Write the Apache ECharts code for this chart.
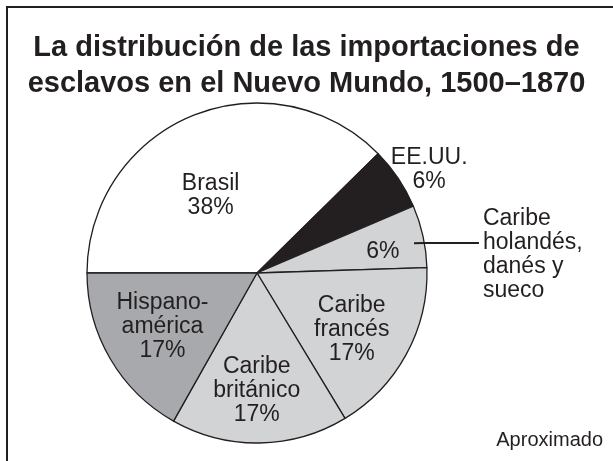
<!DOCTYPE html>
<html>
<head>
<meta charset="utf-8">
<script src="https://cdn.jsdelivr.net/npm/echarts@6/dist/echarts.min.js"></script>
<style>
  html, body { margin: 0; padding: 0; background: #fff; }
  #pieChart { width: 613px; height: 461px; }
</style>
</head>
<body>
<div id="pieChart"></div>
<script>
// regions, clockwise from the left horizontal
var regions = ['Brasil', 'EE.UU.', 'Caribe holandés, danés y sueco', 'Caribe francés', 'Caribe británico', 'Hispanoamérica'];
var shares = [38, 6, 6, 17, 17, 17];
var insideNames = ['Brasil', 'EE.UU.', '', 'Caribe\nfrancés', 'Caribe\nbritánico', 'Hispano-\namérica'];
var sideNote = 'Caribe\nholandés,\ndanés y\nsueco';

var ink = '#231f20';
var fills = ['#ffffff', '#231f20', '#d1d3d4', '#d1d3d4', '#d1d3d4', '#a7a9ac'];
// [radius fraction, angle shift in degrees] for each inner label
var labelPlace = [[0.53, 8.7], [1.18, -3], [0.75, -3], [0.65, -2.5], [0.69, -1], [0.64, -0.6]];

var CX = 257, CY = 273, R = 170;
var font = '"Liberation Sans", Arial, Helvetica, sans-serif';

var myChart = echarts.init(document.getElementById('pieChart'));

var mainData = regions.map(function (name, i) {
  return { name: name, value: shares[i], itemStyle: { color: fills[i] } };
});
var noteData = regions.map(function (name, i) {
  return {
    name: name, value: shares[i],
    label: { show: i === 2 },
    labelLine: { show: i === 2 }
  };
});

var option = {
  backgroundColor: '#fff',
  animation: false,
  title: [{
    text: 'La distribución de las importaciones de\nesclavos en el Nuevo Mundo, 1500–1870',
    left: 'center',
    top: 25,
    textStyle: { fontFamily: font, fontSize: 29, fontWeight: 'bold', color: ink, lineHeight: 36 }
  }, {
    text: 'Aproximado',
    right: 5,
    bottom: 6,
    textStyle: { fontFamily: font, fontSize: 20, fontWeight: 'normal', color: ink }
  }],
  graphic: [{
    type: 'polyline',
    shape: { points: [[7, 461], [7, 7], [613, 7]] },
    style: { stroke: ink, lineWidth: 2, fill: null }
  }],
  series: [
    {
      type: 'pie',
      center: [CX, CY],
      radius: R,
      startAngle: 180,
      clockwise: true,
      silent: true,
      itemStyle: { borderColor: ink, borderWidth: 1.3 },
      label: {
        show: true,
        position: 'inside',
        fontFamily: font,
        fontSize: 23,
        lineHeight: 24,
        color: ink,
        formatter: function (p) {
          var n = insideNames[p.dataIndex];
          return (n ? n + '\n' : '') + p.value + '%';
        }
      },
      labelLine: { show: false },
      labelLayout: function (params) {
        var place = labelPlace[params.dataIndex];
        var r = params.labelRect;
        var lx = r.x + r.width / 2, ly = r.y + r.height / 2;
        var a = Math.atan2(-(ly - CY), lx - CX) + place[1] * Math.PI / 180;
        var d = place[0] * R;
        return { dx: CX + d * Math.cos(a) - lx, dy: CY - d * Math.sin(a) - ly };
      },
      data: mainData
    },
    {
      type: 'pie',
      center: [CX, CY],
      radius: R,
      startAngle: 180,
      clockwise: true,
      silent: true,
      z: 3,
      itemStyle: { color: 'rgba(0,0,0,0)', borderWidth: 0 },
      label: {
        position: 'outside',
        fontFamily: font,
        fontSize: 23,
        lineHeight: 24,
        color: ink,
        align: 'left',
        distanceToLabelLine: 4,
        formatter: function () { return sideNote; }
      },
      labelLine: { length: 1, length2: 55, lineStyle: { color: ink, width: 2 } },
      labelLayout: function (params) {
        if (!params.labelLinePoints) return {};
        var pts = params.labelLinePoints.map(function (p) { return [p[0], p[1] + 7]; });
        pts[0][0] -= 9;
        return { dy: 19, labelLinePoints: pts };
      },
      data: noteData
    }
  ]
};
myChart.setOption(option);
</script>
</body>
</html>
